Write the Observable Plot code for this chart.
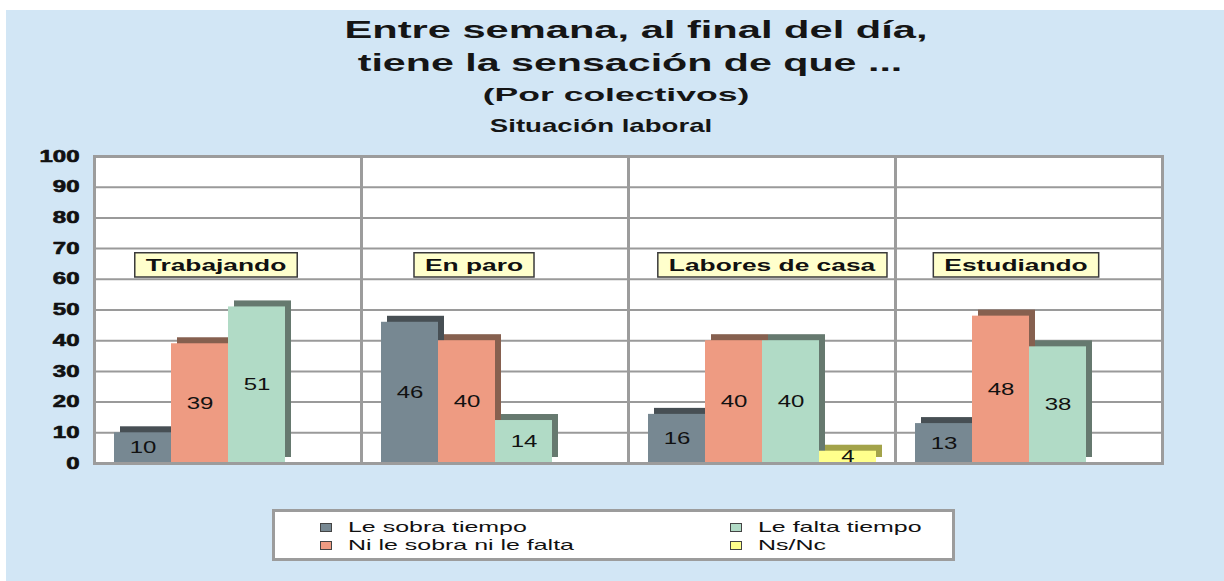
<!DOCTYPE html>
<html>
<head>
<meta charset="utf-8">
<script src="https://cdn.jsdelivr.net/npm/d3@7"></script>
<script src="https://cdn.jsdelivr.net/npm/@observablehq/plot@0.6"></script>
<style>
  body { margin: 0; background: #fff; font-family: "Liberation Sans", Arial, sans-serif; }
  #page { position: relative; width: 1224px; height: 581px; overflow: hidden; }
  #panel { position: absolute; left: 6px; top: 10px; right: 0; bottom: 0; background: #d2e6f5; }
  .t { position: absolute; white-space: nowrap; line-height: 1; font-weight: bold; color: #151515; }
  #chart { position: absolute; left: 0; top: 140px; }
  #legend { position: absolute; left: 272px; top: 509px; width: 683px; height: 52px; box-sizing: border-box;
            border: 3px solid #9c9c9c; background: #fff; display: grid; grid-template-columns: 410px 1fr;
            grid-template-rows: 18px 18px; grid-auto-flow: column; padding: 6px 0 0 45px; }
  .item { display: flex; align-items: center; height: 18px; }
  .sw { display: inline-block; width: 10px; height: 7px; border: 1px solid #444; margin-right: 16px; flex: none; }
  .lt { display: inline-block; font-size: 14.5px; line-height: 18px; color: #111; transform: scaleX(1.72); transform-origin: left center; white-space: nowrap; }
</style>
</head>
<body>
<div id="page">
  <div id="panel"></div>
  <div class="t" style="left:636px; top:18.8px; font-size:23px; transform:translateX(-50%) scaleX(1.81);">Entre semana, al final del día,</div>
  <div class="t" style="left:630px; top:51.5px; font-size:23px; transform:translateX(-50%) scaleX(1.79);">tiene la sensación de que ...</div>
  <div class="t" style="left:616px; top:85px; font-size:19px; transform:translateX(-50%) scaleX(1.87);">(Por colectivos)</div>
  <div class="t" style="left:601px; top:118px; font-size:17.7px; transform:translateX(-50%) scaleX(1.56);">Situación laboral</div>
  <div id="chart"></div>
  <div id="legend"></div>
</div>
<script>
// ---- data ----
const categories = ["Trabajando", "En paro", "Labores de casa", "Estudiando"];
const series = ["Le sobra tiempo", "Ni le sobra ni le falta", "Le falta tiempo", "Ns/Nc"];
const leSobra = [10, 46, 16, 13];
const niNi = [39, 40, 40, 48];
const leFalta = [51, 14, 40, 38];
const nsNc = [null, null, 4, null];
const yTicks = [0, 10, 20, 30, 40, 50, 60, 70, 80, 90, 100];

// ---- styles / layout ----
const colors = ["#778892", "#ee9b82", "#b1dbc6", "#ffff8c"];
const shadows = ["#474f54", "#86604f", "#66796f", "#a3a34a"];
const labelShift = {"Trabajando": -12, "En paro": -21, "Labores de casa": 10, "Estudiando": -13};

const seriesValues = [leSobra, niNi, leFalta, nsNc];
const rows = [];
categories.forEach((c, i) => {
  seriesValues.forEach((vals, j) => {
    if (vals[i] != null) rows.push({category: c, series: series[j], value: vals[i]});
  });
});

const marks = [
  Plot.frame({fill: "white"}),
  Plot.gridY(yTicks, {stroke: "#9a9a9a", strokeOpacity: 1, strokeWidth: 2})
];
series.forEach((s, j) => {
  const d = rows.filter(r => r.series === s);
  marks.push(Plot.barY(d, {fx: "category", x: "series", y: "value", fill: shadows[j], dx: 6, dy: -6}));
  marks.push(Plot.barY(d, {fx: "category", x: "series", y: "value", fill: colors[j]}));
});
marks.push(Plot.text(rows, {fx: "category", x: "series", y: d => d.value / 2, text: d => String(d.value),
  fontSize: 16, fill: "#111", ariaDescription: "value-label"}));
marks.push(Plot.frame({stroke: "#9c9c9c", strokeWidth: 3}));
categories.forEach(c => {
  marks.push(Plot.text([c], {fx: d => d, y: () => 64.6, text: d => d, dx: labelShift[c],
    fontSize: 17, fontWeight: "bold", fill: "#111", ariaDescription: "category-label"}));
});
marks.push(Plot.axisY({ticks: yTicks, tickSize: 0, tickPadding: 15, fontSize: 16, fontWeight: "bold",
  color: "#111", textStroke: "#111", textStrokeWidth: 0.6, label: null}));

const svg = Plot.plot({
  width: 1224, height: 360,
  marginLeft: 93, marginRight: 62, marginTop: 16, marginBottom: 37,
  style: {background: "transparent", fontFamily: "'Liberation Sans', Arial, sans-serif", overflow: "visible"},
  fx: {domain: categories, padding: 0, axis: null, label: null},
  x: {domain: series, paddingInner: 0, paddingOuter: 0.34, axis: null},
  y: {domain: [0, 100]},
  marks
});
document.getElementById("chart").appendChild(svg);

// horizontal stretch of the chart texts (the reference type is widened)
function stretchEls(els, s) {
  els.forEach(t => {
    const tr = t.getAttribute("transform") || "";
    t.setAttribute("transform", tr + ` scale(${s},1)`);
  });
}
const textGroups = Array.from(svg.querySelectorAll('g[aria-label="text"]'));
const valueTexts = [];
const catTexts = [];
textGroups.forEach(g => {
  const fs = g.getAttribute("font-size");
  const desc = g.getAttribute("aria-description");
  const arr = (desc === "category-label" || fs === "17") ? catTexts : valueTexts;
  g.querySelectorAll("text").forEach(t => arr.push(t));
});
stretchEls(Array.from(svg.querySelectorAll('g[aria-label="y-axis tick label"] text')), 1.5);
stretchEls(valueTexts, 1.5);
stretchEls(catTexts, 1.55);

// yellow boxes behind the group labels
const ns = "http://www.w3.org/2000/svg";
catTexts.forEach(t => {
  const b = t.getBBox();
  const s = 1.55, padX = 11 / s, padY = 2.5;
  const r = document.createElementNS(ns, "rect");
  r.setAttribute("transform", t.getAttribute("transform"));
  r.setAttribute("x", b.x - padX);
  r.setAttribute("y", b.y - padY);
  r.setAttribute("width", b.width + 2 * padX);
  r.setAttribute("height", b.height + 2 * padY);
  r.setAttribute("fill", "#ffffcc");
  r.setAttribute("stroke", "#3a3a3a");
  r.setAttribute("stroke-width", 1.5);
  r.setAttribute("vector-effect", "non-scaling-stroke");
  t.parentNode.insertBefore(r, t);
});

// legend
const legend = document.getElementById("legend");
series.forEach((s, j) => {
  const item = document.createElement("div");
  item.className = "item";
  const sw = document.createElement("span");
  sw.className = "sw";
  sw.style.background = colors[j];
  const lt = document.createElement("span");
  lt.className = "lt";
  lt.textContent = s;
  item.appendChild(sw);
  item.appendChild(lt);
  legend.appendChild(item);
});
</script>
</body>
</html>
